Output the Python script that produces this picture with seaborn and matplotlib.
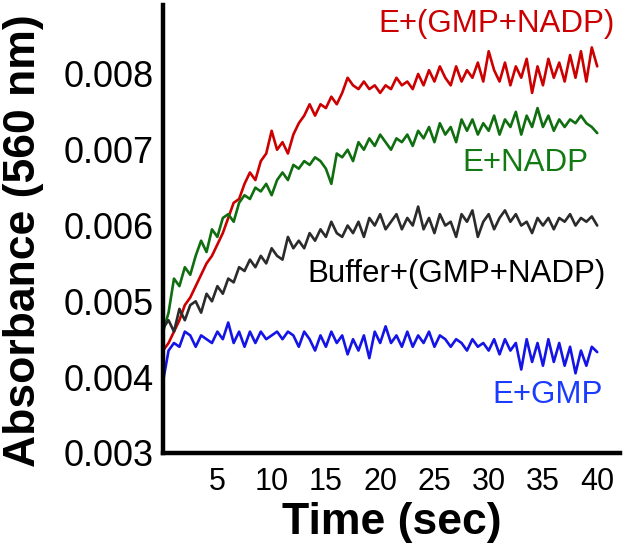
"""Absorbance at 560 nm over time for four reaction mixtures."""

import matplotlib

matplotlib.use("Agg")
import matplotlib.pyplot as plt
import numpy as np
import pandas as pd
import seaborn as sns

time_sec = [i * 0.5 for i in range(81)]

# absorbance values in units of 1e-3
e_gmp_nadp = [
    4.35, 4.45, 4.60, 4.75, 4.95, 5.05, 5.20, 5.35, 5.50, 5.60,
    5.75, 5.90, 6.10, 6.30, 6.35, 6.55, 6.70, 6.60, 6.85, 6.95,
    7.25, 7.00, 7.10, 6.95, 7.20, 7.35, 7.45, 7.60, 7.45, 7.60,
    7.55, 7.70, 7.60, 7.75, 7.95, 7.85, 7.80, 7.90, 7.80, 7.85,
    7.75, 7.85, 7.80, 7.95, 7.85, 7.90, 7.80, 8.00, 7.85, 8.05,
    7.90, 8.10, 7.95, 7.85, 8.10, 7.90, 8.05, 7.95, 8.15, 7.90,
    8.30, 8.05, 7.90, 8.15, 7.85, 8.10, 7.95, 8.20, 7.75, 8.10,
    7.85, 8.20, 7.95, 8.15, 7.90, 8.25, 7.95, 8.30, 7.90, 8.35,
    8.10,
]
e_nadp = [
    4.60, 4.85, 5.30, 5.20, 5.45, 5.35, 5.60, 5.80, 5.65, 5.95,
    5.85, 6.10, 6.15, 6.05, 6.30, 6.40, 6.35, 6.50, 6.45, 6.55,
    6.40, 6.60, 6.70, 6.60, 6.80, 6.75, 6.85, 6.80, 6.90, 6.85,
    6.75, 6.55, 6.95, 6.90, 7.00, 6.85, 7.10, 7.00, 7.15, 7.05,
    7.20, 7.10, 7.00, 7.15, 7.10, 7.20, 7.05, 7.25, 7.15, 7.30,
    7.10, 7.35, 7.20, 7.30, 7.10, 7.40, 7.25, 7.40, 7.20, 7.35,
    7.25, 7.45, 7.20, 7.40, 7.30, 7.50, 7.20, 7.45, 7.30, 7.55,
    7.30, 7.45, 7.25, 7.40, 7.30, 7.40, 7.35, 7.45, 7.35, 7.30,
    7.22,
]
buffer_gmp_nadp = [
    4.65, 4.75, 4.60, 4.90, 4.75, 4.95, 5.00, 4.85, 5.10, 5.00,
    5.20, 5.10, 5.30, 5.25, 5.45, 5.40, 5.55, 5.45, 5.60, 5.50,
    5.70, 5.60, 5.55, 5.85, 5.70, 5.80, 5.70, 5.90, 5.80, 5.95,
    5.85, 6.05, 5.90, 5.85, 6.00, 5.90, 6.05, 5.85, 6.10, 6.00,
    6.15, 5.95, 6.05, 6.15, 5.95, 6.10, 6.00, 6.25, 5.95, 6.10,
    5.90, 6.15, 6.00, 6.05, 5.85, 6.15, 6.05, 6.20, 5.85, 6.05,
    6.15, 5.95, 6.10, 6.20, 6.05, 6.15, 6.00, 6.05, 5.90, 6.10,
    6.00, 6.10, 5.95, 6.10, 6.05, 6.15, 6.00, 6.10, 6.05, 6.12,
    6.00,
]
e_gmp = [
    3.95, 4.35, 4.45, 4.40, 4.60, 4.55, 4.40, 4.55, 4.50, 4.45,
    4.60, 4.50, 4.72, 4.45, 4.60, 4.40, 4.60, 4.45, 4.60, 4.50,
    4.55, 4.60, 4.50, 4.60, 4.55, 4.40, 4.60, 4.50, 4.35, 4.55,
    4.40, 4.60, 4.45, 4.55, 4.30, 4.50, 4.35, 4.55, 4.25, 4.60,
    4.45, 4.67, 4.45, 4.55, 4.40, 4.60, 4.40, 4.55, 4.45, 4.60,
    4.40, 4.55, 4.50, 4.40, 4.50, 4.45, 4.35, 4.50, 4.40, 4.45,
    4.35, 4.50, 4.30, 4.50, 4.35, 4.45, 4.10, 4.50, 4.20, 4.45,
    4.15, 4.50, 4.20, 4.45, 4.15, 4.40, 4.05, 4.35, 4.15, 4.40,
    4.33,
]

series_names = ["E+(GMP+NADP)", "E+NADP", "Buffer+(GMP+NADP)", "E+GMP"]
series_colors = ["#cc0000", "#106e10", "#2b2b2b", "#1414e6"]
label_colors = ["#cc0000", "#137a13", "#000000", "#1a3cff"]
# label centres in data coordinates (seconds, absorbance)
label_x = [30.7, 33.4, 27.0, 35.4]
label_y = [0.00866, 0.00682, 0.00536, 0.00377]


def build_frame() -> pd.DataFrame:
    """Stack the four traces into one long table."""
    frames = []
    for name, values in zip(series_names, [e_gmp_nadp, e_nadp, buffer_gmp_nadp, e_gmp]):
        frames.append(
            pd.DataFrame(
                {
                    "time": time_sec,
                    "absorbance": np.array(values) / 1000,
                    "sample": name,
                }
            )
        )
    return pd.concat(frames, ignore_index=True)


def main() -> None:
    data = build_frame()
    sns.set_theme(style="white")
    plt.rcParams["font.family"] = ["Liberation Sans", "DejaVu Sans"]

    fig = plt.figure(figsize=(6.25, 5.55), dpi=100)
    ax = fig.add_axes([0.261, 0.184, 0.731, 0.807])

    sns.lineplot(
        data=data,
        x="time",
        y="absorbance",
        hue="sample",
        hue_order=series_names,
        palette=dict(zip(series_names, series_colors)),
        linewidth=1.9,
        legend=False,
        ax=ax,
    )

    for name, color, tx, ty in zip(series_names, label_colors, label_x, label_y):
        ax.text(tx, ty, name, color=color, fontsize=22.5, ha="center", va="center")

    ax.set_xlim(0, 42.1)
    ax.set_ylim(0.003, 0.00891)
    ax.set_xticks([5, 10, 15, 20, 25, 30, 35, 40])
    ax.set_yticks([0.003, 0.004, 0.005, 0.006, 0.007, 0.008])
    ax.set_yticklabels(["0.003", "0.004", "0.005", "0.006", "0.007", "0.008"])

    ax.tick_params(axis="y", direction="in", length=6, width=1, color="#bbbbbb",
                   labelsize=26, pad=7, labelcolor="black")
    ax.tick_params(axis="x", length=0, labelsize=22, pad=10, labelcolor="black")

    for side in ["top", "right"]:
        ax.spines[side].set_visible(False)
    for side in ["left", "bottom"]:
        ax.spines[side].set_color("black")
        ax.spines[side].set_linewidth(3.2)

    ax.set_xlabel("Time (sec)", fontsize=32, fontweight="bold", labelpad=4, color="black")
    ax.set_ylabel("Absorbance (560 nm)", fontsize=32, fontweight="bold", color="black")
    ax.yaxis.set_label_coords(-0.26, 0.475)

    fig.savefig("out.png", dpi=100)
    plt.close(fig)


if __name__ == "__main__":
    main()
